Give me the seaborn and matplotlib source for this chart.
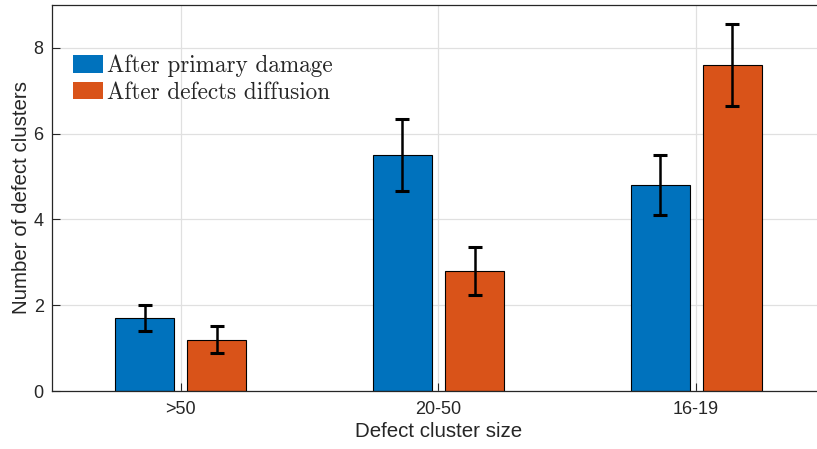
import matplotlib
matplotlib.use("Agg")
import matplotlib.pyplot as plt
from matplotlib.patches import Patch
import seaborn as sns
import pandas as pd
import numpy as np

categories = [">50", "20-50", "16-19"]
series_names = ["After primary damage", "After defects diffusion"]
primary_vals = [1.7, 5.5, 4.8]
primary_err = [0.3, 0.84, 0.7]
diffusion_vals = [1.2, 2.8, 7.6]
diffusion_err = [0.32, 0.56, 0.96]
colors = ["#0072BD", "#D95319"]

df = pd.DataFrame({
    "size": categories * 2,
    "series": [series_names[0]] * 3 + [series_names[1]] * 3,
    "count": primary_vals + diffusion_vals,
    "err": primary_err + diffusion_err,
})

sns.set_theme(style="whitegrid")
plt.rcParams["font.family"] = ["Liberation Sans", "DejaVu Sans"]

fig = plt.figure(figsize=(8.17, 4.49), dpi=100)
W, H = 817, 449
ax = fig.add_axes([52 / W, (H - 391) / H, (825 - 52) / W, (391 - 5) / H])

sns.barplot(data=df, x="size", y="count", hue="series", order=categories,
            hue_order=series_names, palette=colors, width=0.56, gap=0.18,
            edgecolor="black", linewidth=0.8, saturation=1, legend=False, ax=ax)

# error bars at the centre of each drawn bar
for p in ax.patches:
    cx = p.get_x() + p.get_width() / 2
    h = p.get_height()
    row = df.loc[np.isclose(df["count"], h)].iloc[0]
    ax.errorbar(cx, h, yerr=row["err"], fmt="none", ecolor="black",
                elinewidth=1.8, capsize=5, capthick=2.2, zorder=5)

ax.set_xlim(-0.5, 2.5)
ax.set_ylim(0, 9)
ax.set_yticks([0, 2, 4, 6, 8])
ax.grid(True, color="#e0e0e0", linewidth=0.9)
ax.set_axisbelow(True)
for s in ["left", "bottom", "top"]:
    ax.spines[s].set_color("#262626")
    ax.spines[s].set_linewidth(0.9)
ax.spines["right"].set_visible(False)
ax.tick_params(axis="both", direction="in", length=6, width=0.8, left=True, bottom=True,
               colors="#262626", labelsize=13, labelcolor="#262626")
ax.tick_params(axis="x", pad=7)
ax.tick_params(axis="y", pad=6)
ax.set_xlabel("Defect cluster size", fontsize=14.8, color="#262626", labelpad=3)
ax.set_ylabel("Number of defect clusters", fontsize=14.8, color="#262626", labelpad=1.5)

handles = [Patch(facecolor=c, edgecolor="none") for c in colors]
leg = ax.legend(handles, series_names, loc="upper left", bbox_to_anchor=(0.027, 0.872),
                frameon=False, handlelength=1.3, handleheight=0.78, handletextpad=0.17,
                labelspacing=0.2, borderpad=0, borderaxespad=0,
                prop={"family": "cmr10", "size": 16.7})

fig.savefig("out.png", dpi=100)
